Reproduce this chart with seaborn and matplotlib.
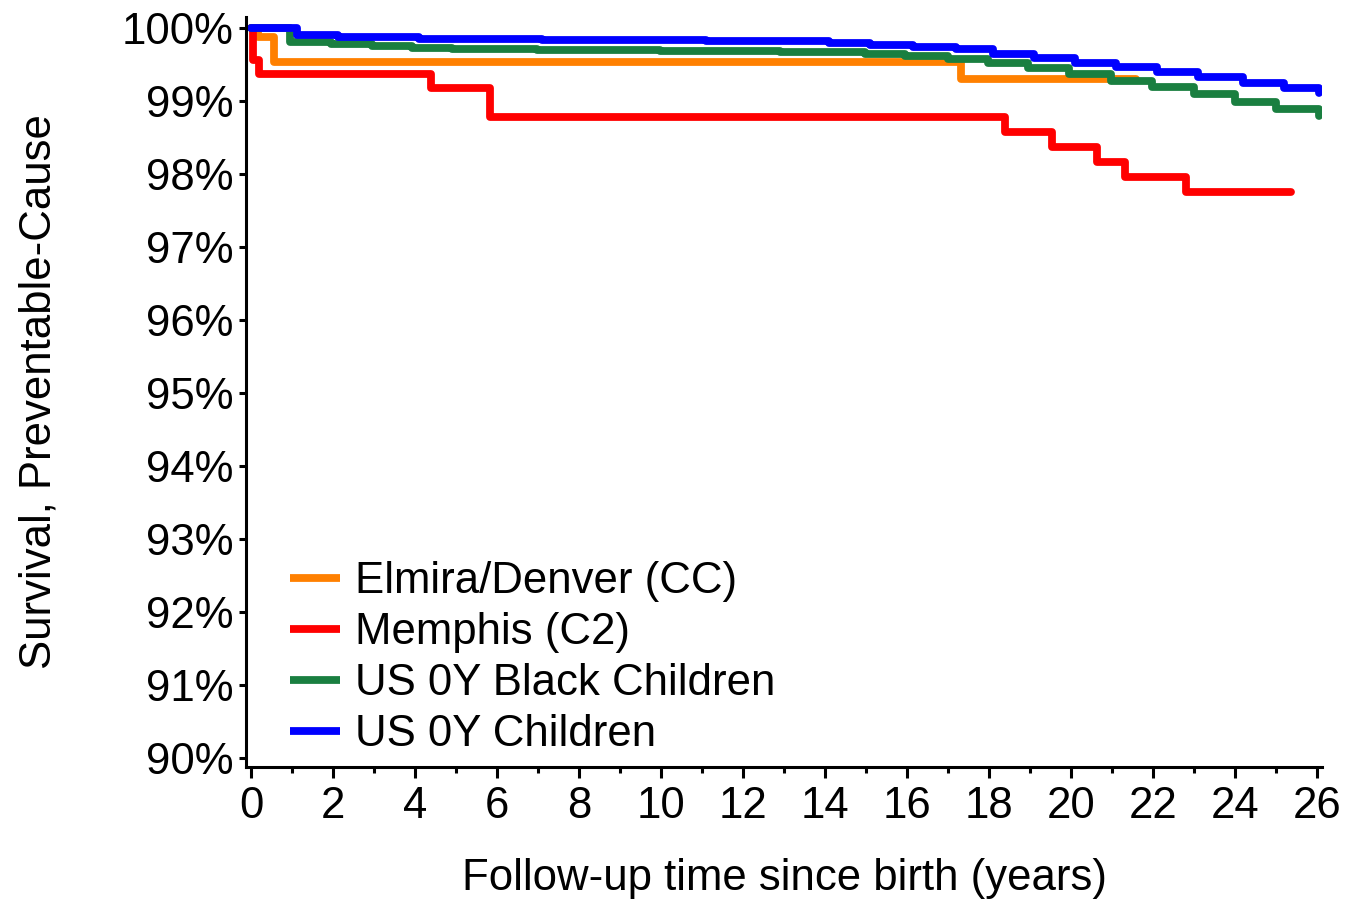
import numpy as np
import pandas as pd
import matplotlib
matplotlib.use("Agg")
import matplotlib.pyplot as plt
import seaborn as sns
from matplotlib.ticker import FixedLocator, FuncFormatter

# ---- data ----
series_names = ["Elmira/Denver (CC)", "Memphis (C2)", "US 0Y Black Children", "US 0Y Children"]
series_colors = ["#FF8000", "#FF0000", "#1A7F40", "#0000FF"]

elmira_t = [0, 0.17, 0.54, 17.33, 21.6]
elmira_s = [100, 99.885, 99.54, 99.31, 99.31]

memphis_t = [0, 0.03, 0.18, 4.37, 5.83, 18.39, 19.53, 20.63, 21.32, 22.8, 25.38]
memphis_s = [100, 99.57, 99.38, 99.18, 98.79, 98.58, 98.38, 98.17, 97.96, 97.76, 97.76]

black_t = [0, 0.95, 1.93, 2.94, 3.92, 4.9, 6.97, 9.96, 12.9, 14.98, 15.95, 17.0,
           17.97, 18.95, 19.96, 20.98, 21.98, 23.0, 24.0, 25.0, 26.05, 26.06]
black_s = [100, 99.81, 99.78, 99.757, 99.734, 99.72, 99.705, 99.69, 99.67, 99.643, 99.62, 99.58,
           99.53, 99.45, 99.37, 99.28, 99.20, 99.095, 98.99, 98.89, 98.80, 98.80]

us_t = [0, 1.1, 2.1, 4.1, 7.1, 11.1, 14.1, 15.1, 16.15, 17.2, 18.1, 19.1, 20.1,
        21.1, 22.1, 23.1, 24.2, 25.2, 26.05, 26.06]
us_s = [100, 99.91, 99.88, 99.86, 99.84, 99.82, 99.80, 99.77, 99.75, 99.72, 99.65, 99.59, 99.53,
        99.47, 99.40, 99.33, 99.25, 99.18, 99.11, 99.11]

x_ticks = list(range(0, 27, 2))
y_ticks = list(range(90, 101))

frames = []
for name, t, s in zip(series_names, [elmira_t, memphis_t, black_t, us_t],
                      [elmira_s, memphis_s, black_s, us_s]):
    frames.append(pd.DataFrame({"t": t, "s": s, "group": name}))
df = pd.concat(frames, ignore_index=True)

# ---- style ----
sns.set_theme(style="ticks")
plt.rcParams["font.family"] = ["Liberation Sans", "DejaVu Sans"]
plt.rcParams["text.color"] = "black"
FS = 31.5
LW = 5.6

fig = plt.figure(figsize=(13.45, 9.0), dpi=100)
ax = fig.add_axes([246 / 1345, 1 - 767 / 900, (1322 - 246) / 1345, (767 - 17) / 900])

palette = dict(zip(series_names, series_colors))
sns.lineplot(data=df, x="t", y="s", hue="group", hue_order=series_names, palette=palette,
             estimator=None, sort=False, units="group", drawstyle="steps-post",
             linewidth=LW, ax=ax, legend=True, solid_capstyle="round")

ax.set_xlim(-0.134, 26.13)
ax.set_ylim(89.88, 100.155)

ax.xaxis.set_major_locator(FixedLocator(x_ticks))
ax.xaxis.set_minor_locator(FixedLocator(list(range(1, 27, 2))))
ax.yaxis.set_major_locator(FixedLocator(y_ticks))
ax.yaxis.set_major_formatter(FuncFormatter(lambda v, p: f"{int(round(v))}%"))

for side in ["top", "right"]:
    ax.spines[side].set_visible(False)
for side in ["left", "bottom"]:
    ax.spines[side].set_linewidth(2.2)
    ax.spines[side].set_color("black")

ax.tick_params(axis="x", which="major", length=8, width=2.2, labelsize=FS, pad=6, colors="black")
ax.tick_params(axis="x", which="minor", length=4.5, width=2.2, colors="black")
ax.tick_params(axis="y", which="major", length=5, width=2.2, labelsize=FS, pad=4, colors="black")

ax.set_xlabel("Follow-up time since birth (years)", fontsize=FS, labelpad=22, color="black")
ax.set_ylabel("Survival, Preventable-Cause", fontsize=FS, labelpad=45, color="black")

leg = ax.legend(loc="lower left", bbox_to_anchor=(290 / 1345, (900 - 755) / 900),
                bbox_transform=fig.transFigure, frameon=False, fontsize=FS,
                handlelength=1.15, handletextpad=0.33, labelspacing=0.225,
                borderpad=0, borderaxespad=0, title=None)
for line in leg.get_lines():
    line.set_linewidth(LW)
    line.set_solid_capstyle("butt")
for txt in leg.get_texts():
    txt.set_color("black")

fig.savefig("out.png", dpi=100)
